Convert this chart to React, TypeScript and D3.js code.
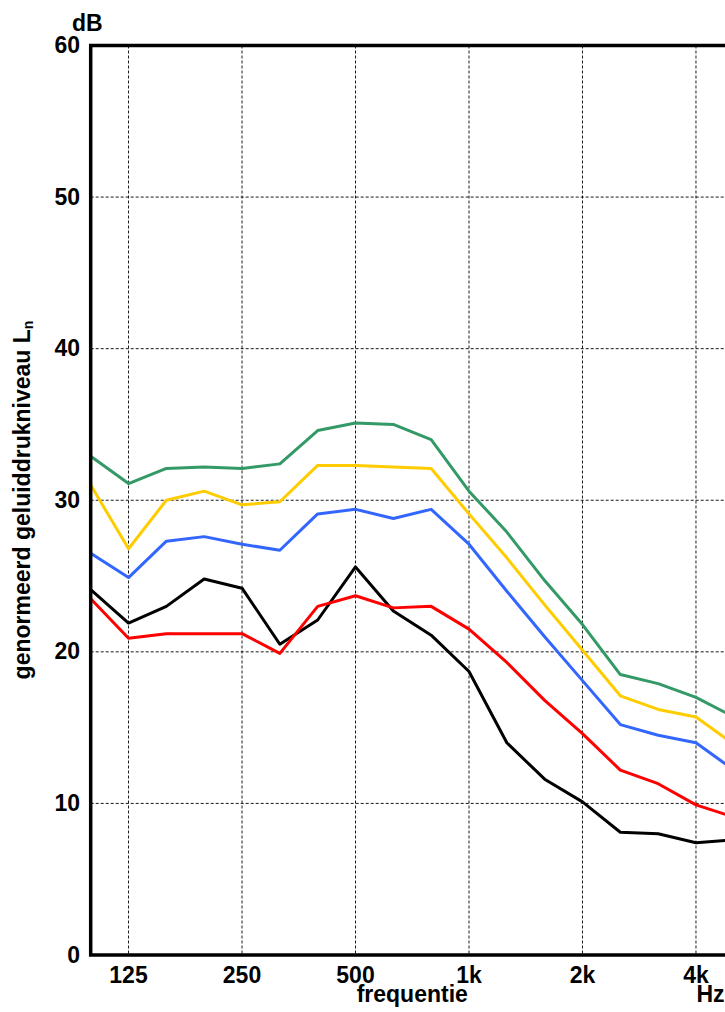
import React from "react";
import * as d3 from "d3";

// third-octave bands (the last two only extend the axis past the crop)
const bands = ["100", "125", "160", "200", "250", "315", "400", "500", "630", "800",
  "1000", "1250", "1600", "2000", "2500", "3150", "4000", "5000", "6300", "8000"];
const tickBands = ["125", "250", "500", "1000", "2000", "4000"];
const tickLabels = ["125", "250", "500", "1k", "2k", "4k"];
const yTicks = [0, 10, 20, 30, 40, 50, 60];

// values per band, 100 Hz .. 5000 Hz
const green = [32.9, 31.1, 32.1, 32.2, 32.1, 32.4, 34.6, 35.1, 35.0, 34.0, 30.6, 27.9, 24.7, 21.8, 18.5, 17.9, 17.0, 15.7];
const yellow = [31.0, 26.8, 30.0, 30.6, 29.7, 29.9, 32.3, 32.3, 32.2, 32.1, 29.1, 26.2, 23.1, 20.1, 17.1, 16.2, 15.7, 13.9];
const blue = [26.5, 24.9, 27.3, 27.6, 27.1, 26.7, 29.1, 29.4, 28.8, 29.4, 27.1, 24.0, 21.0, 18.1, 15.2, 14.5, 14.0, 12.2];
const black = [24.1, 21.9, 23.0, 24.8, 24.2, 20.5, 22.1, 25.6, 22.7, 21.1, 18.7, 14.0, 11.6, 10.1, 8.1, 8.0, 7.4, 7.6];
const red = [23.5, 20.9, 21.2, 21.2, 21.2, 19.9, 23.0, 23.7, 22.9, 23.0, 21.5, 19.3, 16.8, 14.6, 12.2, 11.3, 9.9, 9.1];

const series = [
  { name: "groen", values: green, color: "#339966" },
  { name: "geel", values: yellow, color: "#ffcc00" },
  { name: "blauw", values: blue, color: "#3366ff" },
  { name: "zwart", values: black, color: "#000000" },
  { name: "rood", values: red, color: "#ff0000" },
];

const font = "'Liberation Sans', Arial, Helvetica, sans-serif";

export default function App() {
  const width = 725;
  const height = 1012;
  const left = 90.7;
  const step = 37.83;
  const top = 45.5;
  const bottom = 955;
  const right = left + step * (bands.length - 1);

  const x = d3.scalePoint<string>().domain(bands).range([left, right]);
  const y = d3.scaleLinear().domain([0, 60]).range([bottom, top]);

  const line = d3.line<number>()
    .x((_, i) => x(bands[i]) as number)
    .y(d => y(d));

  return (
    <svg width={width} height={height}
      style={{ position: "absolute", left: 0, top: 0, background: "#fff" }}
      fontFamily={font} fontWeight="bold">
      {/* grid */}
      {yTicks.filter(t => t > 0 && t < 60).map(t => (
        <line key={"h" + t} x1={left} x2={right} y1={y(t)} y2={y(t)}
          stroke="#000" strokeWidth={0.9} strokeDasharray="3,2" />
      ))}
      {tickBands.map(b => (
        <line key={"v" + b} x1={x(b)} x2={x(b)} y1={top} y2={bottom}
          stroke="#000" strokeWidth={0.9} strokeDasharray="3,2" />
      ))}

      {/* series */}
      {series.map(s => (
        <path key={s.name} d={line(s.values) || ""} fill="none"
          stroke={s.color} strokeWidth={3} strokeLinejoin="round" />
      ))}

      {/* frame */}
      <path d={`M${right},${top}H${left}V${bottom}H${right}`} fill="none"
        stroke="#000" strokeWidth={3.5} />

      {/* y ticks */}
      {yTicks.map(t => (
        <text key={"yl" + t} x={80} y={y(t) + 7.5} textAnchor="end" fontSize={23}>{t}</text>
      ))}
      <text x={72} y={31} fontSize={23}>dB</text>

      {/* x ticks */}
      {tickBands.map((b, i) => (
        <text key={"xl" + b} x={x(b)} y={983} textAnchor="middle" fontSize={23}>{tickLabels[i]}</text>
      ))}
      <text x={((x("500") as number) + (x("1000") as number)) / 2} y={1002}
        textAnchor="middle" fontSize={23}>frequentie</text>
      <text x={(x("4000") as number) + 0.5} y={1002} fontSize={23}>Hz</text>

      {/* y title */}
      <text transform="translate(30,500) rotate(-90)" textAnchor="middle" fontSize={23}>
        genormeerd geluiddrukniveau L<tspan fontSize={14} dy={3}>n</tspan>
      </text>
    </svg>
  );
}
